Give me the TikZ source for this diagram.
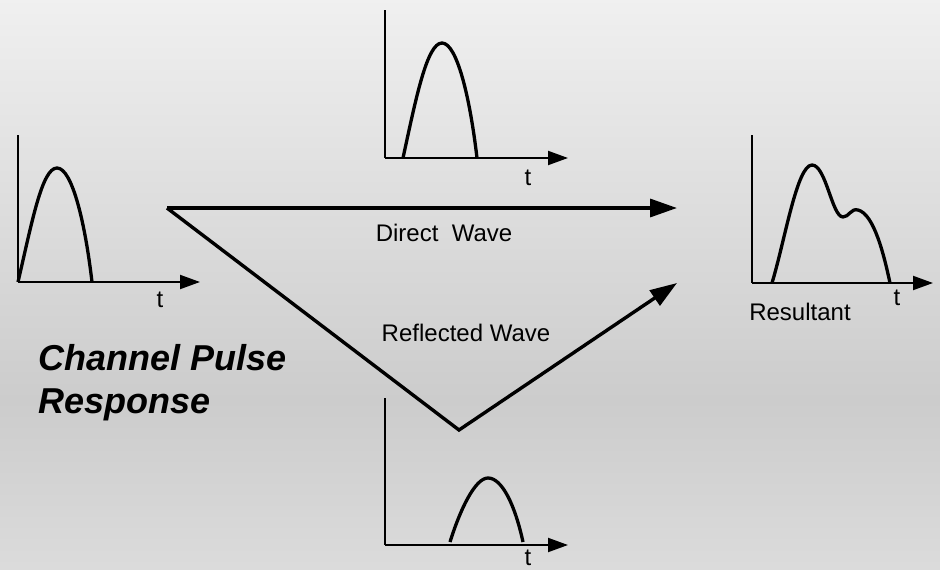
\documentclass[tikz,border=0pt]{standalone}
\usepackage{fontspec}
\setmainfont{Liberation Sans}
\usetikzlibrary{arrows.meta,positioning}
\tikzset{
  axis/.style={line width=2pt,-{Triangle[length=20pt,width=14pt]}},
  pulse/.style={line width=3.3pt,line join=round},
  wave/.style={line width=3.4pt,line join=miter,-{Triangle[length=27pt,width=18pt]}},
  lbl/.style={font=\fontsize{24}{28}\selectfont,inner sep=0pt}
}
\begin{document}
\begin{tikzpicture}[x=1pt,y=-1pt]
\useasboundingbox(0,0)rectangle(940,570);
\shade[top color=black!6,bottom color=black!20](0,0)rectangle(940,400);
\shade[top color=black!20,bottom color=black!14](0,400)rectangle(940,570);
% transmitted pulse
\begin{scope}
\coordinate(o1) at(18,282);\coordinate(y1) at(18,135);\coordinate(t1) at(200,282);
\draw[line width=2pt](y1)--(o1);\draw[axis](o1)--(t1);
\draw[pulse](18,282).. controls (32,222) and (42,168) ..(57,168).. controls (72,168) and (85,222) ..(92,282);
\node[lbl](tl1) at(160,300){t};
\end{scope}
% direct wave pulse
\begin{scope}
\coordinate(o2) at(385,158);\coordinate(y2) at(385,10);\coordinate(t2) at(568,158);
\draw[line width=2pt](y2)--(o2);\draw[axis](o2)--(t2);
\draw[pulse](403,158).. controls (416,98) and (427,43) ..(442,43).. controls (457,43) and (470,98) ..(477,158);
\node[lbl](tl2) at(528,178){t};
\end{scope}
% reflected wave pulse
\begin{scope}
\coordinate(o3) at(385,545);\coordinate(y3) at(385,398);\coordinate(t3) at(568,545);
\draw[line width=2pt](y3)--(o3);\draw[axis](o3)--(t3);
\draw[pulse](450,542).. controls (460,510) and (475,478) ..(488,478).. controls (502,478) and (515,505) ..(523,542);
\node[lbl](tl3) at(528,558){t};
\end{scope}
% resultant
\begin{scope}
\coordinate(o4) at(752,283);\coordinate(y4) at(752,135);\coordinate(t4) at(933,283);
\draw[line width=2pt](y4)--(o4);\draw[axis](o4)--(t4);
\draw[pulse](772,283).. controls (785,240) and (797,165) ..(812,165).. controls (826,165) and (832,217) ..(843,217).. controls (849,217) and (851,208) ..(858,210).. controls (874,214) and (884,255) ..(890,283);
\node[lbl](tl4) at(897,298){t};
\node[lbl](res) at(800,312){Resultant};
\end{scope}
% propagation paths
\coordinate(src) at(167,208);\coordinate(dst) at(677,208);
\coordinate(gnd) at(459,430);\coordinate(rcv) at(677,283);
\draw[wave](src)--(dst);
\draw[wave](src)--(gnd)--(rcv);
\node[lbl](dw) at(444,233){Direct~ Wave};
\node[lbl](rw) at(466,333){Reflected Wave};
\node[anchor=base west,inner sep=0pt,font=\fontsize{36}{42}\selectfont\bfseries\itshape](ttl1) at(38,370){Channel Pulse};
\node[anchor=base west,inner sep=0pt,font=\fontsize{36}{42}\selectfont\bfseries\itshape](ttl2) at(38,413){Response};
\end{tikzpicture}
\end{document}
